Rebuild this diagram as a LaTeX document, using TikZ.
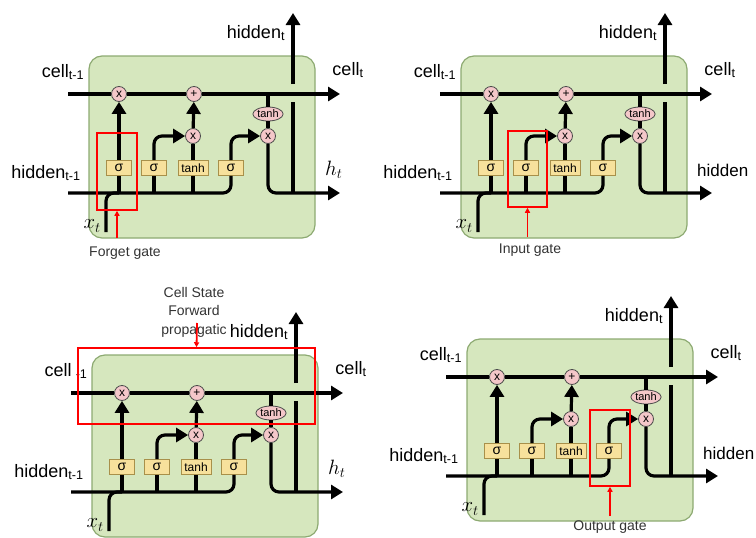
\documentclass[tikz,border=0pt]{standalone}
\usepackage{fontspec}
\setmainfont{Liberation Sans}
\usetikzlibrary{arrows.meta, positioning, shapes.geometric}

\definecolor{bodygreen}{HTML}{D6E7BE}
\definecolor{bodyedge}{HTML}{8DAA72}
\definecolor{oppink}{HTML}{F4C7C9}
\definecolor{layeryellow}{HTML}{F7E19C}
\definecolor{layeredge}{HTML}{A8904A}
\definecolor{notegray}{HTML}{333333}

\tikzset{
  cellbody/.style={rectangle, rounded corners=13pt, draw=bodyedge, fill=bodygreen, line width=1.2pt, minimum width=226pt, minimum height=182pt},
  opcirc/.style={circle, draw=black!70, fill=oppink, line width=0.8pt, minimum size=15pt, inner sep=0pt, font=\fontsize{12}{12}\selectfont},
  actell/.style={ellipse, draw=black!70, fill=oppink, line width=0.8pt, minimum width=30pt, minimum height=14pt, inner sep=0pt, font=\fontsize{11}{11}\selectfont},
  layerbox/.style={rectangle, draw=layeredge, fill=layeryellow, line width=0.8pt, minimum width=25pt, minimum height=15pt, inner sep=0pt, font=\fontsize{14}{14}\selectfont},
  flow/.style={line width=3.2pt, black},
  headed/.style={-{Triangle[length=12pt, width=14pt]}},
  lbl/.style={inner sep=0pt, font=\fontsize{18}{18}\selectfont},
  mlbl/.style={inner sep=0pt, font=\fontsize{22}{22}\selectfont},
  hilite/.style={rectangle, draw=red, line width=1.5pt, inner sep=0pt},
  redarrow/.style={draw=red, line width=1.8pt, -{Triangle[length=5pt, width=5pt]}},
  gatelbl/.style={inner sep=0pt, text=notegray, font=\fontsize{14}{14}\selectfont},
}

% one LSTM cell: shift x, shift y, left cell label, right hidden label
\newcommand{\lstmcell}[4]{%
  \begin{scope}[shift={(#1,#2)}]
    % cell body
    \node[cellbody] (body) at (202,147) {};

    % pointwise operations
    \node[opcirc] (fx) at (119,94) {x};
    \node[opcirc] (ad) at (194,94) {+};
    \node[opcirc] (ix) at (193,136) {x};
    \node[opcirc] (ox) at (268,136) {x};
    \node[actell] (ct) at (268,114) {tanh};

    % layers
    \node[layerbox] (sf) at (119,168) {σ};
    \node[layerbox] (si) at (154,168) {σ};
    \node[layerbox, minimum width=30pt, font=\fontsize{12}{12}\selectfont] (tc) at (193,168) {tanh};
    \node[layerbox] (so) at (231,168) {σ};

    % ends of the lines
    \coordinate (cin) at (68,94);
    \coordinate (cout) at (340,94);
    \coordinate (hin) at (68,193);
    \coordinate (hout) at (340,193);
    \coordinate (xin) at (106,232);
    \coordinate (hbot) at (293,193);
    \coordinate (hgapa) at (293,102);
    \coordinate (hgapb) at (293,84);
    \coordinate (htop) at (293,13);

    % cell state line
    \draw[flow, headed] (cin) -- (fx) -- (ad) -- (cout);

    % hidden input line and x_t
    \draw[flow, rounded corners=8pt] (hin) -- (so.south |- hin) -- (so.south);
    \draw[flow, rounded corners=8pt] (xin) -- (xin |- hin) -- (sf.south |- hin);

    % forget branch
    \draw[flow] (sf.south |- hin) -- (sf);
    \draw[flow, headed] (sf) -- (fx);

    % input branch
    \draw[flow] (si.south |- hin) -- (si);
    \draw[flow, headed, rounded corners=8pt] (si) -- (si.north |- ix) -- (ix);
    \draw[flow] (tc.south |- hin) -- (tc);
    \draw[flow] (tc) -- (ix);
    \draw[flow, headed] (ix) -- (ad);

    % output branch
    \draw[flow, headed, rounded corners=8pt] (so) -- (so.north |- ox) -- (ox);
    \draw[flow] (ct.north |- cin) -- (ct);
    \draw[flow] (ct) -- (ox);
    \draw[flow, headed, rounded corners=8pt] (ox) -- (ox |- hout) -- (hout);

    % hidden_t goes over the cell line
    \draw[flow] (hbot) -- (hgapa);
    \draw[flow, headed] (hgapb) -- (htop);

    % labels
    \node[lbl] (lcin) at (63,72) {#3};
    \node[lbl] (lcout) at (348,70) {cell\textsubscript{t}};
    \node[lbl] (lhin) at (46,173) {hidden\textsubscript{t-1}};
    \node[lbl, anchor=west] (lhout) at (325,170) {#4};
    \node[mlbl, anchor=east] (lx) at (101,226) {$x_t$};
    \node[lbl] (lht) at (256,33) {hidden\textsubscript{t}};
  \end{scope}%
}

\begin{document}
\begin{tikzpicture}[x=1pt, y=-1pt]
  \useasboundingbox (0,0) rectangle (756,538);

  % the four cells
  \lstmcell{0}{0}{cell\textsubscript{t-1}}{\fontsize{22}{22}\selectfont$h_t$}
  \lstmcell{372}{0}{cell\textsubscript{t-1}}{\fontsize{17}{17}\selectfont hidden}
  \lstmcell{3}{299}{cell\textsubscript{\,\,-1}}{\fontsize{22}{22}\selectfont$h_t$}
  \lstmcell{378}{283}{cell\textsubscript{t-1}}{\fontsize{17}{17}\selectfont hidden}

  % forget gate
  \node[hilite, minimum width=40pt, minimum height=77pt] (fgbox) at (117,171.5) {};
  \coordinate (fgtail) at (117,238);
  \draw[redarrow] (fgtail) -- (fgbox.south);
  \node[gatelbl] (fglbl) at (125,253) {Forget gate};

  % input gate
  \node[hilite, minimum width=39pt, minimum height=76pt] (igbox) at (527.5,169) {};
  \coordinate (igtail) at (527.5,237);
  \draw[redarrow] (igtail) -- (igbox.south);
  \node[gatelbl] (iglbl) at (530,250) {Input gate};

  % cell state
  \node[hilite, minimum width=237pt, minimum height=76pt] (csbox) at (196.5,386) {};
  \node[gatelbl, align=center, font=\fontsize{14}{18.5}\selectfont] (cslbl) at (194,312) {Cell State\\Forward\\propagatic};
  \coordinate (cstail) at (197,323);
  \draw[redarrow] (cstail) -- (csbox.north);

  % output gate
  \node[hilite, minimum width=40pt, minimum height=76pt] (ogbox) at (610,448) {};
  \coordinate (ogtail) at (610,516);
  \draw[redarrow] (ogtail) -- (ogbox.south);
  \node[gatelbl] (oglbl) at (610,527) {Output gate};
\end{tikzpicture}
\end{document}
